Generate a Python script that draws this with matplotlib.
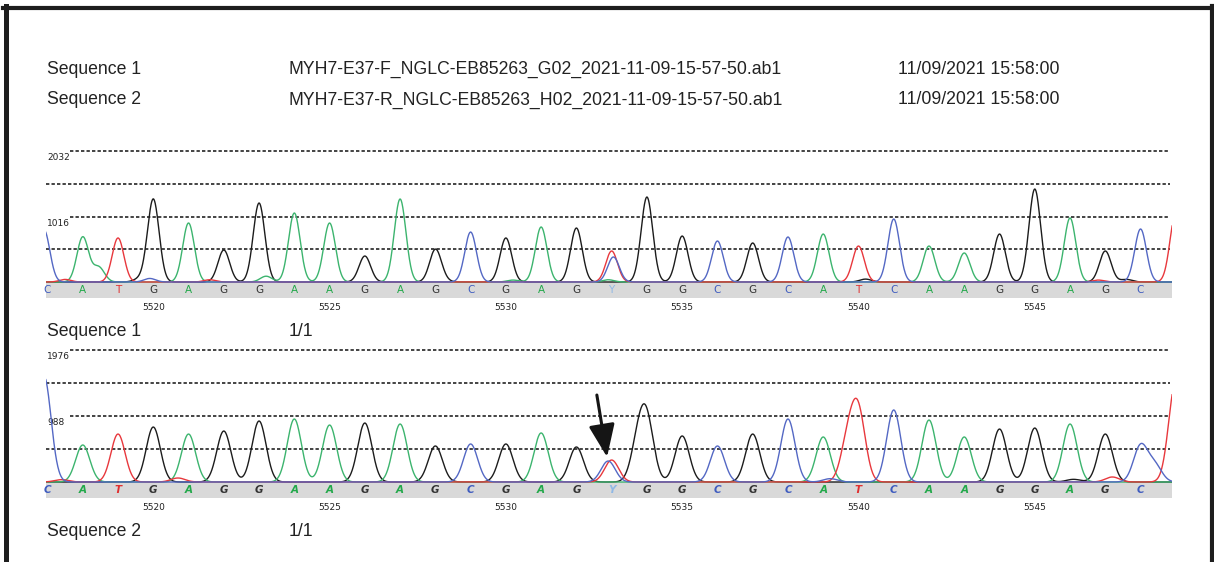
import numpy as np
import matplotlib
matplotlib.use('Agg')
import matplotlib.pyplot as plt
from matplotlib.lines import Line2D

plt.rcParams['font.family'] = ['Liberation Sans', 'DejaVu Sans']

W, H = 1214, 562

# ---- data ----
bases = list('CATGAGGAAGAGCGAGYGGCGCATCAAGGAGC')
first_pos = 5517
pos_ticks = [5520, 5525, 5530, 5535, 5540, 5545]

# peak height of the called base at each position (Y -> T channel, C part in extras)
seq1_heights = [810, 698, 683, 1287, 915, 496, 1225, 1070, 915, 403, 1287,
                496, 775, 683, 853, 837, 481, 1318, 713, 636, 605, 698,
                744, 558, 977, 558, 450, 744, 1442, 993, 481, 822]
seq2_heights = [1585, 554, 718, 823, 718, 763, 913, 943, 853, 883, 868,
                539, 569, 569, 734, 524, 329, 853, 689, 539, 718, 943,
                674, 1003, 1078, 928, 674, 793, 808, 868, 718, 539]

# secondary / noise peaks: (channel, position index, height)
seq1_extra = [('C', 16.05, 388), ('T', 32.0, 1065), ('A', 1.45, 230),
              ('A', 6.2, 90), ('G', 2.6, 45), ('T', 0.5, 40), ('C', 2.9, 55),
              ('T', 4.6, 35), ('G', 11.2, 30), ('A', 15.9, 35), ('G', 23.2, 45),
              ('T', 29.8, 30), ('G', 30.6, 40), ('A', 13.2, 30)]
seq2_extra = [('C', 15.9, 314), ('T', 32.0, 1500), ('T', 3.7, 60),
              ('G', 16.75, 550), ('T', 22.7, 600), ('C', 31.4, 250),
              ('T', 30.2, 75), ('G', 29.1, 40), ('C', 22.2, 50), ('T', 0.4, 35)]

seq1_max, seq2_max = 2032, 1976

header_names = ['Sequence 1', 'Sequence 2']
header_files = ['MYH7-E37-F_NGLC-EB85263_G02_2021-11-09-15-57-50.ab1',
                'MYH7-E37-R_NGLC-EB85263_H02_2021-11-09-15-57-50.ab1']
header_dates = ['11/09/2021 15:58:00', '11/09/2021 15:58:00']

trace_colors = {'G': '#1c1c1c', 'A': '#3cb46e', 'T': '#e8383d', 'C': '#5468c4'}
letter_colors = {'G': '#333333', 'A': '#22a84a', 'T': '#e03030', 'C': '#3f5cbf', 'Y': '#8fb8e6'}


def traces(heights, extra, sigma, lead_shift=-0.1):
    x = np.linspace(-1, 33, 4000)
    ys = {ch: np.zeros_like(x) for ch in 'GATC'}
    for i, (b, h) in enumerate(zip(bases, heights)):
        ch = 'T' if b == 'Y' else b
        c = i + (lead_shift if i == 0 else 0)
        ys[ch] += h * np.exp(-(x - c) ** 2 / (2 * sigma ** 2))
    for ch, c, h in extra:
        ys[ch] += h * np.exp(-(x - c) ** 2 / (2 * sigma ** 2))
    return x, ys


fig = plt.figure(figsize=(W / 100, H / 100), dpi=100)

# panel geometry in pixels: (top line, baseline, band bottom)
panels = [
    (seq1_heights, seq1_extra, seq1_max, 0.165, 151, 282, 298, False, 'Sequence 1'),
    (seq2_heights, seq2_extra, seq2_max, 0.2, 350, 482, 498, True, 'Sequence 2'),
]
x_left, x_right, step, x0 = 46, 1172, 35.26, 47.5
pad_top = 6

axes = []
for heights, extra, ymax, sigma, top, base, bot, italic, name in panels:
    ax = fig.add_axes([x_left / W, 1 - bot / H, (x_right - x_left) / W,
                       (bot - top + pad_top) / H])
    unit = ymax / (base - top)
    ybot = -unit * (bot - base)
    ax.set_ylim(ybot, ymax + unit * pad_top)
    ax.set_xlim((x_left - x0) / step, (x_right - x0) / step)
    ax.axhspan(ybot, 0, color='#d9d9d9', lw=0, zorder=0)

    for k in range(4):
        yv = ymax * (4 - k) / 4
        xmin = 0.0213 if k in (0, 2) else 0.0
        ax.axhline(yv, xmin=xmin, xmax=0.998, color='#111111', lw=1.1,
                   dashes=(2.2, 1.4), zorder=1)
        if k in (0, 2):
            ax.annotate(str(int(yv)), xy=(0.001, yv), xycoords=('axes fraction', 'data'),
                        xytext=(0, -1.5), textcoords='offset points',
                        ha='left', va='top', fontsize=6.5, family='DejaVu Sans',
                        color='#222222')

    x, ys = traces(heights, extra, sigma)
    for ch in 'GATC':
        ax.plot(x, ys[ch], color=trace_colors[ch], lw=1.0, zorder=3)

    for i, b in enumerate(bases):
        ax.text(i, ybot / 2, b, ha='center', va='center', fontsize=7.5,
                color=letter_colors[b], family='DejaVu Sans',
                fontstyle='italic' if italic else 'normal',
                fontweight='bold' if italic else 'normal')

    ax.set_xticks([p - first_pos for p in pos_ticks], labels=[str(p) for p in pos_ticks])
    ax.tick_params(axis='x', length=0, pad=3.5, labelsize=6.5, labelcolor='#222222')
    for lab in ax.get_xticklabels():
        lab.set_family('DejaVu Sans')
    ax.set_yticks([])
    for s in ax.spines.values():
        s.set_visible(False)
    ax.patch.set_alpha(0)

    fig.text(47 / W, 1 - (bot + 33) / H, name, fontsize=12.7, va='center', color='#222222')
    fig.text(289 / W, 1 - (bot + 33) / H, '1/1', fontsize=12.7, va='center', color='#222222')
    axes.append(ax)

# arrow pointing at the heterozygous Y peak in sequence 2
ax2 = axes[1]
ax2.annotate('', xy=(15.87, 374), xytext=(15.58, 1302),
             arrowprops=dict(arrowstyle='-|>,head_width=0.4,head_length=1.0',
                             lw=2.2, color='#151515', mutation_scale=20,
                             shrinkA=0, shrinkB=0), annotation_clip=False)

# header
for k, yy in enumerate([69, 100]):
    fig.text(47 / W, 1 - yy / H, header_names[k], fontsize=12.7, va='center', color='#222222')
    fig.text(289 / W, 1 - yy / H, header_files[k], fontsize=12.7, va='center', color='#222222')
    fig.text(898 / W, 1 - yy / H, header_dates[k], fontsize=12.7, va='center', color='#222222')

# page frame
fc = '#1e1e1e'
fig.add_artist(Line2D([3 / W, 1], [1 - 8 / H, 1 - 8 / H], lw=3, color=fc))
fig.add_artist(Line2D([5.5 / W, 5.5 / W], [0, 1 - 6 / H], lw=3.6, color=fc))
fig.add_artist(Line2D([1212 / W, 1212 / W], [0, 1 - 6 / H], lw=3, color=fc))

plt.savefig('out.png', dpi=100)
